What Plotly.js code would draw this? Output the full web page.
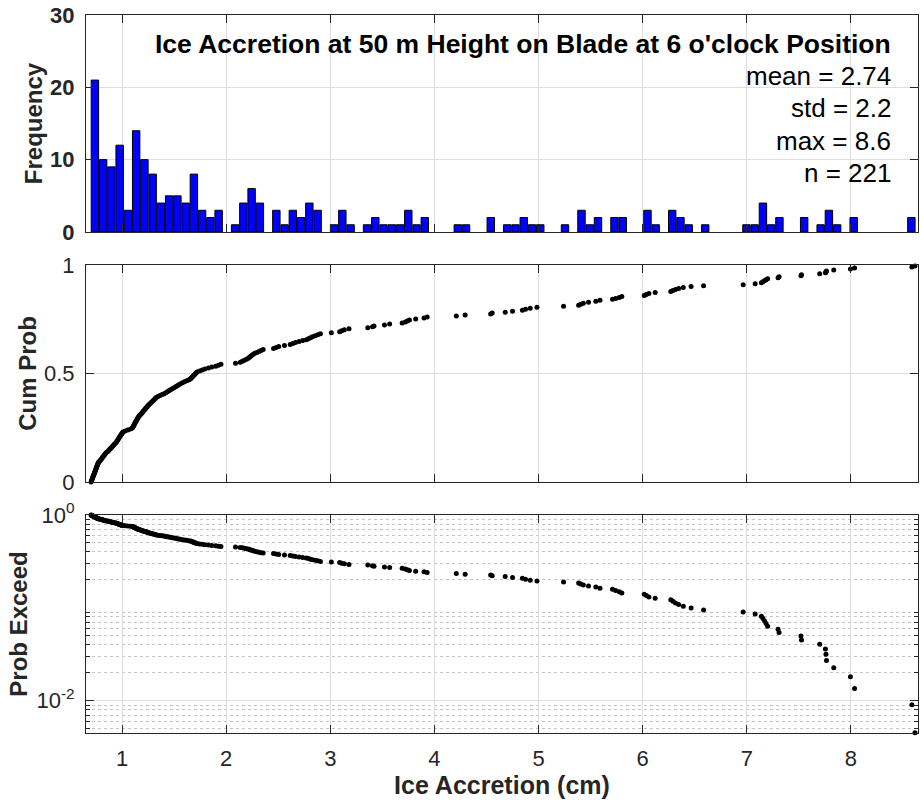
<!DOCTYPE html>
<html><head><meta charset="utf-8">
<script src="https://cdn.plot.ly/plotly-3.0.1.min.js"></script>
<style>html,body{margin:0;padding:0;background:#fff;} #chart{width:921px;height:802px;}</style>
</head><body><div id="chart"></div>
<script>
// Ice accretion values (cm)
const iceAccretion = [
 0.703,0.706,0.710,0.713,0.717,0.720,0.724,0.727,0.731,0.734,0.738,0.741,0.745,0.748,0.752,0.755,0.759,0.762,0.766,0.770,0.774,
 0.784,0.791,0.798,0.805,0.812,0.819,0.826,0.833,0.841,0.849,
 0.863,0.871,0.880,0.888,0.897,0.905,0.914,0.922,0.930,
 0.942,0.948,0.954,0.960,0.966,0.972,0.978,0.984,0.990,0.996,1.002,1.009,
 1.030,1.055,1.082,
 1.100,1.105,1.110,1.115,1.120,1.125,1.130,1.135,1.140,1.145,1.150,1.156,1.162,1.169,
 1.180,1.188,1.196,1.204,1.212,1.220,1.228,1.236,1.243,1.250,
 1.260,1.270,1.280,1.290,1.300,1.310,1.319,1.328,
 1.345,1.365,1.385,1.404,
 1.420,1.435,1.450,1.465,1.482,
 1.500,1.515,1.530,1.545,1.562,
 1.580,1.600,1.620,1.640,
 1.656,1.665,1.674,1.683,1.692,1.701,1.710,1.720,
 1.745,1.770,1.795,
 1.830,1.862,
 1.900,1.925,1.950,
 2.090,
 2.135,2.155,2.175,2.195,
 2.212,2.224,2.236,2.248,2.260,2.274,
 2.295,2.315,2.335,2.355,
 2.455,2.480,2.505,
 2.560,
 2.615,2.640,2.665,
 2.700,2.735,
 2.770,2.790,2.810,2.828,
 2.855,2.880,2.905,
 3.010,
 3.090,3.110,3.135,
 3.180,
 3.360,
 3.405,3.420,
 3.520,
 3.570,
 3.690,
 3.720,3.740,3.760,
 3.820,
 3.900,3.930,
 4.210,
 4.295,
 4.540,4.555,
 4.680,
 4.750,
 4.845,4.875,
 4.920,
 4.985,
 5.240,
 5.385,5.405,5.430,
 5.480,
 5.550,5.590,
 5.710,5.740,
 5.775,5.800,
 6.015,6.035,6.060,
 6.120,
 6.270,6.290,6.315,
 6.345,6.390,
 6.465,
 6.585,
 6.965,
 7.080,
 7.140,7.155,7.170,7.185,
 7.200,
 7.300,7.310,
 7.520,7.525,
 7.700,
 7.755,7.760,7.765,
 7.835,
 7.995,8.035,
 8.585,8.615
];
const binStart = 0.70, binSize = 0.0792, binEnd = 8.62;
const xTickVals = [1,2,3,4,5,6,7,8];
const freqTickVals = [0,10,20,30];
const cumTickVals = [0,0.5,1];
const exceedTickVals = [0.01,1];
const exceedTickText = ['10<sup>-2</sup>','10<sup>0</sup>'];
const exceedDecades = [0.01,0.1,1];
const titleText = "Ice Accretion at 50 m Height on Blade at 6 o'clock Position";
const statLabels = ['mean = 2.74','std = 2.2','max = 8.6','n = 221'];

const n = iceAccretion.length;
const sorted = iceAccretion.slice().sort((a,b)=>a-b);
const cumProb = sorted.map((v,i)=>i/n);
const probExceed = sorted.map((v,i)=>(n-i)/n);
const minorVals = [];
for (let e=-3;e<=0;e++) for (let m=2;m<=9;m++) minorVals.push(m*Math.pow(10,e));

const FONT = 'Liberation Sans, Arial, Helvetica, sans-serif';
const LINE = '#262626';
const GRID = '#dedede';
const XR = [0.654, 8.644];
const LOGR = [Math.log10(0.0045), 0];

function xAxis(anchor, showLabels, extra){
  return Object.assign({
    anchor: anchor, domain:[0,1], range: XR, tickvals: xTickVals,
    showticklabels: showLabels, ticks:'inside', ticklen:8, tickwidth:1, tickcolor:LINE,
    showline:true, linecolor:LINE, linewidth:1, mirror:'ticks',
    showgrid:true, gridcolor:GRID, gridwidth:1, zeroline:false,
    tickfont:{family:FONT,size:22,color:LINE}
  }, extra||{});
}
function yAxis(anchor, domain, extra){
  return Object.assign({
    anchor: anchor, domain: domain,
    ticks:'inside', ticklen:8, tickwidth:1, tickcolor:LINE,
    showline:true, linecolor:LINE, linewidth:1, mirror:'ticks',
    showgrid:true, gridcolor:GRID, gridwidth:1, zeroline:false,
    tickfont:{family:FONT,size:22,color:LINE}, ticklabelstandoff:6
  }, extra||{});
}

const traces = [
  {type:'histogram', x: iceAccretion, xaxis:'x', yaxis:'y',
   autobinx:false, xbins:{start:binStart, end:binEnd, size:binSize},
   marker:{color:'#0000ff', line:{color:'#000000', width:1}}},
  {type:'scatter', mode:'markers', x: sorted, y: cumProb, xaxis:'x2', yaxis:'y2',
   marker:{color:'#000000', size:5}, cliponaxis:false},
  {type:'scatter', mode:'markers', x: sorted, y: probExceed, xaxis:'x3', yaxis:'y3',
   marker:{color:'#000000', size:5}, cliponaxis:false}
];

const annotations = [
  {xref:'paper', yref:'paper', x:0.970, y:0.9596, xanchor:'right', yanchor:'middle', showarrow:false,
   text:'<b>'+titleText+'</b>', font:{family:FONT, size:26.5, color:'#000'}}
];
const statY = [0.915, 0.8705, 0.8245, 0.780];
statLabels.forEach((s,i)=>annotations.push({xref:'paper', yref:'paper', x:0.970, y:statY[i],
  xanchor:'right', yanchor:'middle', showarrow:false, text:s, font:{family:FONT,size:26,color:'#000'}}));

const layout = {
  width:921, height:802, margin:{l:86, r:3, t:15, b:69},
  paper_bgcolor:'#fff', plot_bgcolor:'#fff', showlegend:false, hovermode:false,
  bargap:0.1,
  font:{family:FONT, color:LINE},
  xaxis: xAxis('y', false),
  yaxis: yAxis('x', [0.6978,1], {range:[0,30], tickvals:freqTickVals,
     tickfont:{family:FONT,size:22,color:LINE,weight:'bold'},
     title:{text:'<b>Frequency</b>', font:{family:FONT,size:24,color:LINE}, standoff:0}}),
  xaxis2: xAxis('y2', false),
  yaxis2: yAxis('x2', [0.3496,0.6518], {range:[0,1], tickvals:cumTickVals,
     title:{text:'<b>Cum Prob</b>', font:{family:FONT,size:24,color:LINE}, standoff:0}}),
  xaxis3: xAxis('y3', true, {ticklabelstandoff:6,
     title:{text:'<b>Ice Accretion (cm)</b>', font:{family:FONT,size:25,color:LINE}, standoff:6}}),
  yaxis3: yAxis('x3', [0,0.3036], {type:'log', range:LOGR,
     tickvals:exceedTickVals, ticktext:exceedTickText,
     minor:{tickvals:minorVals, ticks:'inside', ticklen:4, tickcolor:LINE, showgrid:true,
            griddash:'dot', gridcolor:'#c4c4c4', gridwidth:1},
     title:{text:'<b>Prob Exceed</b>', font:{family:FONT,size:24,color:LINE}, standoff:2}}),
  yaxis4: {overlaying:'y3', anchor:'x3', type:'log', range:LOGR, tickvals:exceedDecades,
     showticklabels:false, ticks:'', showline:false, showgrid:true, gridcolor:GRID, gridwidth:1, zeroline:false},
  annotations: annotations
};

Plotly.newPlot('chart', traces, layout, {staticPlot:true, displayModeBar:false});
</script>
</body></html>
